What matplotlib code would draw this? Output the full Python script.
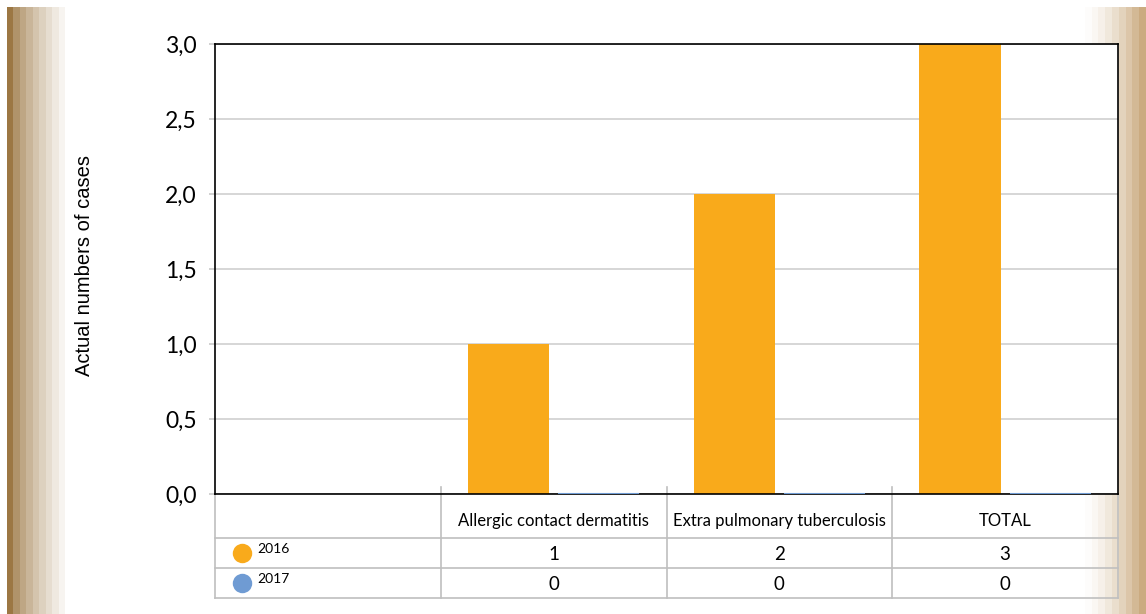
import numpy as np
import matplotlib.pyplot as plt
from matplotlib.lines import Line2D
from matplotlib.colors import LinearSegmentedColormap

categories = ["Allergic contact dermatitis", "Extra pulmonary tuberculosis", "TOTAL"]
years = ["2016", "2017"]
values_2016 = [1, 2, 3]
values_2017 = [0, 0, 0]
colors = ["#F9AA1B", "#6F9BD3"]

fig = plt.figure(figsize=(11.46, 6.14), dpi=100)
W, H = 1146, 614

# decorative side bands
bg = fig.add_axes([0, 0, 1, 1], zorder=-10)
bg.axis("off")
left_grad = np.linspace(0, 1, 10)[None, :] ** 0.7
bg.imshow(left_grad, cmap=LinearSegmentedColormap.from_list("l", ["#9C7743", "#FFFFFF"]),
          extent=[7, 72, H, 7], aspect="auto", interpolation="nearest")
right_grad = np.linspace(0, 1, 10)[None, :] ** 1.6
bg.imshow(right_grad, cmap=LinearSegmentedColormap.from_list("r", ["#FFFFFF", "#CBAB80"]),
          extent=[1078, 1146, H, 7], aspect="auto", interpolation="nearest")
bg.set_xlim(0, W)
bg.set_ylim(H, 0)

ax = fig.add_axes([215 / W, 1 - 494 / H, (1118 - 215) / W, 450 / H])
x = np.arange(len(categories))
w = 0.36
ax.bar(x - 0.2, values_2016, w, color=colors[0], zorder=3)
ax.bar(x + 0.2, values_2017, w, color=colors[1], edgecolor=colors[1], linewidth=1.5, zorder=5)

ax.set_xlim(-1.5, 2.5)
ax.set_ylim(0, 3)
ax.set_yticks(np.arange(0, 3.01, 0.5))
ax.set_yticklabels([f"{v:.1f}".replace(".", ",") for v in np.arange(0, 3.01, 0.5)],
                   fontsize=16.5, family="Lato")
ax.tick_params(axis="y", length=4, color="#C8C8C8", width=1.2, pad=9)
ax.set_xticks([])
ax.grid(axis="y", color="#D0D0D0", linewidth=1.2, zorder=0)
for s in ax.spines.values():
    s.set_color("black")
    s.set_linewidth(1.2)
    s.set_zorder(4)

fig.text(84 / W, 1 - 266 / H, "Actual numbers of cases", rotation=90, ha="center", va="center",
         fontsize=14.5, family="Liberation Sans")

# data table
tr = ax.get_xaxis_transform()
ph = 450.0
def ay(py):
    return (494 - py) / ph

gcol = "#BFBFBF"
for py in [538, 568, 598]:
    ax.add_line(Line2D([-1.5, 2.5], [ay(py)] * 2, transform=tr, color=gcol, lw=1.2, clip_on=False))
for xb in [-1.5, -0.5, 0.5, 1.5, 2.5]:
    top = 494 if xb in (-1.5, 2.5) else 487
    ax.add_line(Line2D([xb, xb], [ay(top), ay(598)], transform=tr, color=gcol, lw=1.2, clip_on=False))

for i, c in enumerate(categories):
    ax.text(x[i], ay(521), c, transform=tr, ha="center", va="center", fontsize=12, family="Lato")
    ax.text(x[i], ay(554), str(values_2016[i]), transform=tr, ha="center", va="center",
            fontsize=13.5, family="Lato")
    ax.text(x[i], ay(584), str(values_2017[i]), transform=tr, ha="center", va="center",
            fontsize=13.5, family="Lato")

for j, (yr, cl, py) in enumerate(zip(years, colors, [553, 583])):
    fig.add_artist(Line2D([242 / W], [1 - py / H], marker="o", markersize=14,
                          color=cl, markeredgewidth=0))
    fig.text(257 / W, 1 - (py - 4) / H, yr, ha="left", va="center", fontsize=10, family="Lato")

fig.savefig("out.png", dpi=100)
